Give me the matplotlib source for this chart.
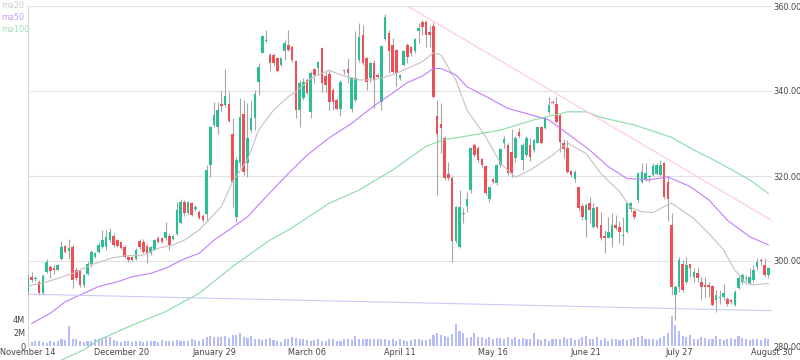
import numpy as np
import matplotlib
matplotlib.use("Agg")
import matplotlib.pyplot as plt

# daily candles
opens = [292.8, 296.3, 295.7, 295.1, 292.5, 297.5, 298.7, 298.4, 298.0, 300.4,
         303.5, 302.4, 303.4, 298.0, 297.7, 294.3, 296.9, 299.3, 300.9, 302.2,
         303.2, 303.2, 304.9, 305.9, 304.9, 304.5, 303.2, 301.0, 300.9, 300.4,
         304.8, 304.5, 303.5, 301.8, 302.7, 305.5, 305.3, 305.3, 305.9, 305.1,
         306.3, 308.9, 314.0, 311.4, 313.6, 312.3, 311.6, 310.5, 311.0, 322.6,
         332.0, 331.6, 336.9, 336.7, 336.9, 329.9, 310.4, 323.0, 334.6, 323.0,
         330.8, 333.6, 342.2, 349.0, 351.8, 348.5, 348.4, 347.7, 346.1, 349.3,
         350.8, 350.4, 347.1, 335.5, 338.3, 342.6, 335.1, 345.1, 345.3, 350.0,
         343.5, 343.9, 340.2, 338.0, 335.7, 344.6, 345.1, 335.7, 337.9, 347.3,
         353.2, 347.7, 343.0, 346.5, 343.8, 337.5, 352.2, 353.7, 350.8, 349.6,
         343.0, 346.1, 350.8, 350.4, 349.3, 354.2, 356.3, 356.3, 354.0, 355.3,
         334.1, 332.2, 328.9, 320.5, 319.5, 304.6, 303.4, 311.1, 313.0, 316.7,
         327.3, 326.7, 323.9, 322.4, 314.7, 319.2, 318.3, 322.6, 327.7, 327.3,
         325.7, 324.2, 330.4, 323.8, 324.9, 327.3, 326.1, 327.8, 331.6, 331.2,
         335.1, 337.5, 336.9, 334.4, 327.7, 326.5, 321.2, 319.2, 317.3, 312.9,
         309.7, 313.6, 307.9, 312.6, 308.5, 305.9, 305.3, 305.3, 308.5, 308.1,
         305.9, 306.9, 312.2, 311.8, 314.4, 318.7, 319.1, 319.7, 320.2, 320.5,
         320.2, 323.1, 318.7, 308.5, 292.0, 294.0, 299.4, 295.1, 299.3, 296.3,
         297.1, 295.1, 294.4, 294.4, 294.1, 290.8, 291.2, 291.6, 291.0, 290.8,
         289.6, 293.6, 295.1, 295.7, 294.9, 295.5, 298.7, 300.2, 299.0, 296.7]
highs = [297.0, 297.5, 296.4, 295.5, 297.0, 300.4, 299.0, 299.0, 299.4, 304.8,
         303.7, 305.1, 303.7, 298.6, 298.0, 297.0, 300.1, 302.6, 302.2, 304.5,
         307.3, 307.4, 307.7, 306.5, 305.2, 304.8, 303.7, 301.2, 301.1, 303.0,
         305.2, 305.1, 304.0, 303.6, 305.1, 305.8, 305.6, 309.2, 306.5, 306.2,
         314.0, 314.7, 314.3, 314.2, 314.0, 313.2, 312.0, 311.0, 322.6, 331.8,
         337.5, 337.5, 340.0, 345.2, 339.8, 333.6, 324.5, 338.3, 337.9, 337.2,
         337.7, 340.2, 346.5, 353.2, 354.4, 348.9, 349.0, 348.1, 348.0, 352.0,
         354.3, 350.8, 347.3, 342.6, 343.0, 343.0, 344.6, 345.3, 347.1, 350.3,
         344.9, 344.9, 340.6, 338.3, 342.6, 345.2, 347.8, 343.4, 354.2, 355.9,
         355.5, 348.1, 346.9, 347.3, 344.2, 350.8, 358.1, 354.4, 352.4, 349.8,
         344.0, 349.7, 351.2, 350.6, 352.4, 355.9, 356.7, 356.7, 355.5, 356.3,
         337.9, 337.1, 329.3, 323.4, 319.9, 312.9, 316.7, 312.4, 316.3, 326.9,
         327.7, 327.1, 324.2, 322.6, 317.5, 319.5, 322.8, 326.5, 329.3, 327.7,
         331.0, 329.3, 331.2, 327.7, 329.3, 328.9, 328.6, 331.6, 331.8, 334.0,
         338.7, 337.9, 338.7, 334.7, 328.6, 328.5, 321.4, 321.4, 317.5, 313.6,
         313.6, 315.0, 313.6, 312.8, 311.6, 307.3, 310.4, 311.2, 310.8, 309.3,
         310.4, 314.0, 314.0, 312.0, 321.0, 323.0, 323.0, 320.2, 323.0, 323.0,
         323.8, 323.4, 319.9, 311.2, 294.4, 301.0, 300.2, 300.9, 299.4, 298.3,
         298.7, 296.3, 296.3, 295.1, 294.4, 293.2, 293.2, 294.7, 291.6, 291.0,
         293.2, 296.7, 297.1, 296.7, 298.3, 299.0, 300.6, 300.6, 300.6, 298.7]
lows = [292.0, 295.0, 295.3, 292.0, 292.0, 297.1, 295.9, 297.0, 297.9, 300.2,
        301.8, 300.6, 293.6, 295.6, 293.8, 294.0, 296.7, 298.7, 300.7, 301.8,
        303.0, 302.6, 304.5, 303.2, 303.3, 302.8, 300.6, 299.8, 299.9, 300.2,
        302.8, 301.8, 299.6, 301.4, 302.6, 304.2, 304.3, 304.9, 302.7, 304.9,
        306.1, 308.7, 310.5, 311.0, 310.6, 311.8, 309.8, 309.2, 309.5, 319.8,
        331.6, 330.0, 335.0, 336.3, 332.8, 312.8, 309.2, 322.2, 320.2, 319.8,
        330.4, 330.8, 339.0, 348.9, 351.2, 344.8, 346.0, 344.5, 345.8, 347.3,
        349.5, 346.9, 333.6, 331.6, 337.9, 339.1, 333.6, 341.8, 343.8, 339.8,
        339.8, 335.5, 335.5, 335.5, 334.1, 344.0, 342.0, 335.1, 337.5, 346.9,
        346.1, 340.2, 342.2, 335.9, 343.0, 335.5, 352.0, 344.2, 344.2, 341.2,
        342.6, 345.9, 346.5, 348.2, 348.9, 351.2, 353.2, 350.4, 350.4, 338.3,
        315.5, 325.3, 319.1, 319.1, 299.8, 304.2, 303.0, 308.9, 311.6, 315.9,
        324.5, 323.4, 321.8, 315.5, 314.0, 318.3, 317.9, 322.2, 326.5, 320.2,
        319.7, 323.4, 328.9, 321.4, 324.5, 323.6, 325.7, 327.7, 327.5, 331.0,
        334.7, 336.9, 332.4, 325.7, 324.2, 320.6, 319.7, 318.7, 312.0, 309.7,
        305.7, 308.9, 307.7, 307.7, 304.9, 301.8, 305.3, 303.4, 307.3, 304.2,
        303.8, 306.5, 311.6, 310.0, 314.0, 318.3, 318.9, 318.7, 320.0, 320.2,
        319.9, 314.7, 309.3, 292.0, 286.1, 292.8, 292.8, 294.7, 296.3, 295.1,
        295.1, 290.8, 291.6, 291.6, 289.3, 288.1, 290.0, 290.8, 289.3, 290.0,
        289.3, 293.3, 294.7, 295.1, 294.7, 295.1, 297.9, 299.0, 296.3, 296.1]
closes = [295.9, 295.5, 296.1, 292.4, 296.5, 299.8, 297.6, 298.0, 299.0, 303.4,
          302.2, 303.0, 295.6, 296.0, 294.3, 296.7, 299.2, 302.0, 301.9, 303.8,
          304.9, 305.7, 306.9, 303.8, 303.5, 303.0, 300.9, 300.2, 300.2, 302.6,
          303.2, 302.2, 301.8, 303.2, 304.9, 304.5, 304.5, 306.9, 303.8, 305.9,
          312.0, 313.9, 311.4, 313.8, 310.9, 312.6, 310.2, 309.6, 321.3, 331.6,
          334.3, 335.5, 336.5, 338.9, 333.0, 318.7, 323.8, 333.8, 321.0, 328.9,
          333.6, 339.4, 345.7, 352.9, 351.9, 346.5, 346.5, 344.8, 347.7, 351.2,
          349.6, 347.3, 335.5, 341.8, 342.2, 339.5, 344.2, 343.8, 346.9, 341.8,
          341.4, 337.5, 337.5, 335.7, 342.2, 344.9, 344.3, 343.0, 343.0, 352.8,
          346.5, 342.2, 346.5, 342.6, 343.4, 350.6, 357.3, 349.3, 344.5, 344.2,
          343.8, 349.3, 348.1, 348.9, 352.2, 354.8, 355.1, 353.2, 353.2, 338.7,
          330.0, 331.2, 319.5, 319.5, 304.6, 312.8, 312.8, 311.4, 314.5, 326.5,
          325.0, 323.8, 322.6, 315.9, 317.3, 318.7, 322.6, 326.3, 328.6, 320.6,
          320.6, 328.9, 329.3, 327.3, 328.9, 324.5, 328.5, 331.5, 327.8, 333.8,
          336.7, 337.1, 332.8, 328.1, 326.3, 321.0, 320.2, 321.0, 312.4, 310.4,
          313.2, 312.0, 312.4, 307.9, 305.3, 305.3, 306.9, 308.5, 307.7, 306.9,
          306.1, 313.6, 313.7, 310.4, 320.8, 321.0, 320.8, 320.0, 322.4, 322.6,
          322.6, 315.1, 314.7, 294.0, 294.0, 300.2, 293.2, 299.0, 298.3, 297.3,
          295.9, 294.0, 294.0, 293.8, 289.6, 292.0, 291.6, 292.4, 290.0, 290.4,
          292.8, 296.1, 296.7, 296.0, 296.3, 297.9, 299.8, 300.0, 296.7, 298.3]
# volume in millions
volume = [0.7, 0.6, 0.8, 0.7, 0.6, 0.5, 0.7, 0.6, 0.8, 1.0,
          0.9, 3.0, 1.1, 1.0, 0.7, 0.6, 0.7, 0.8, 1.1, 1.0,
          1.2, 1.3, 1.4, 0.9, 0.7, 0.6, 0.8, 0.7, 0.6, 0.7,
          0.8, 0.6, 0.7, 0.8, 0.7, 0.6, 0.9, 0.7, 0.8, 0.7,
          0.9, 0.8, 0.7, 0.8, 1.0, 0.9, 0.8, 1.0, 1.4, 1.5,
          1.3, 1.4, 1.3, 1.5, 1.2, 1.6, 1.7, 2.0, 1.4, 1.2,
          1.5, 1.1, 1.0, 0.9, 1.1, 1.2, 0.9, 0.8, 0.6, 1.0,
          1.1, 1.3, 1.2, 1.0, 1.1, 0.9, 0.8, 0.9, 1.0, 0.8,
          0.8, 1.1, 1.0, 0.7, 0.8, 1.0, 1.1, 0.9, 1.5, 1.1,
          1.0, 1.1, 1.0, 1.0, 1.1, 1.0, 1.1, 0.9, 1.0, 0.8,
          1.1, 0.9, 0.8, 0.9, 1.0, 1.1, 0.9, 0.9, 1.0, 1.7,
          2.0, 1.6, 1.5, 1.3, 1.8, 3.3, 2.2, 2.0, 1.2, 1.3,
          1.9, 1.3, 1.4, 1.0, 1.3, 1.0, 1.2, 1.2, 1.0, 1.4,
          1.0, 1.3, 1.1, 1.2, 1.0, 1.1, 2.0, 1.1, 0.9, 1.0,
          0.8, 1.0, 1.1, 1.0, 1.3, 1.0, 1.2, 0.9, 1.0, 1.3,
          1.5, 1.0, 1.1, 1.3, 0.9, 1.2, 0.8, 1.0, 1.1, 0.9,
          1.0, 0.9, 1.0, 1.2, 1.3, 1.5, 1.1, 1.0, 1.1, 0.9,
          1.2, 1.5, 2.0, 4.5, 3.1, 2.2, 1.5, 1.3, 1.6, 1.0,
          1.1, 1.4, 1.2, 1.0, 1.1, 1.5, 1.0, 0.9, 1.0, 1.2,
          1.1, 1.5, 1.2, 1.0, 0.9, 1.1, 1.0, 0.9, 1.2, 1.0]

# moving averages, sampled along the chart (bar index, value)
ma20_idx = [0, 5, 8, 12, 17, 23, 26, 31, 35, 39, 42, 46, 52, 55, 59, 62, 66, 70, 72, 76,
            81, 84, 89, 93, 98, 102, 106, 109, 111, 115, 118, 123, 127, 131, 135, 141, 145, 150, 154, 159,
            162, 165, 168, 171, 173, 175, 179, 183, 187, 190, 193, 195, 199]
ma20_val = [294.1, 295.1, 295.9, 297.1, 299.1, 300.8, 301.2, 301.4, 303.0, 303.8,
            304.9, 307.3, 312.8, 318.7, 323.8, 330.8, 335.5, 338.7, 339.8, 343.0,
            344.9, 343.8, 342.6, 342.6, 343.8, 345.3, 346.9, 349.0, 348.5, 342.6,
            335.5, 329.3, 323.0, 319.7, 321.4, 324.9, 327.8, 325.3, 320.6, 316.3,
            312.6, 311.6, 311.4, 312.8, 313.6, 312.4, 310.0, 306.5, 302.6, 297.9,
            294.7, 294.4, 294.7]
ma50_idx = [1, 6, 10, 15, 19, 24, 28, 33, 37, 42, 46, 50, 54, 59, 64, 70, 75, 81, 87, 93,
            98, 102, 106, 109, 111, 115, 118, 124, 129, 134, 140, 145, 151, 156, 161, 167, 172, 178, 183, 188,
            194, 199]
ma50_val = [285.3, 287.7, 290.4, 292.4, 294.0, 295.1, 296.3, 297.1, 298.3, 300.5,
            301.8, 304.9, 307.3, 310.4, 315.1, 320.6, 324.9, 329.0, 332.4, 336.5,
            339.5, 342.0, 343.5, 345.3, 345.3, 343.8, 341.0, 338.3, 335.9, 334.7,
            333.2, 330.0, 326.1, 322.2, 319.4, 319.1, 319.8, 317.5, 314.4, 309.6,
            305.7, 303.8]
ma100_idx = [0, 9, 15, 19, 28, 37, 46, 55, 65, 70, 81, 89, 98, 107, 112, 118, 127, 136,
             145, 150, 154, 163, 173, 179, 186, 194, 199]
ma100_val = [272.5, 276.7, 279.1, 281.4, 284.9, 288.1, 292.4, 298.7, 304.9, 307.3,
             313.6, 316.7, 321.4, 327.0, 328.6, 329.4, 330.8, 333.2, 335.1, 335.1,
             333.8, 332.0, 329.1, 326.1, 323.0, 319.1, 315.9]

# trend lines (bar index, price)
trend_down = ([102, 200], [360.0, 309.5])
trend_low = ([0, 200], [292.2, 288.3])

tick_pos = [0, 25, 50, 75, 100, 125, 150, 175, 200]
tick_labels = ["November 14", "December 20", "January 29", "March 06", "April 11",
               "May 16", "June 21", "July 27", "August 30"]

UP = "#2bbd96"
DOWN = "#ef4f57"
WICK = "#a6a6a6"
FS = 5.9

fig = plt.figure(figsize=(8, 3.6), dpi=100)
ax = fig.add_axes([28 / 800, 14 / 360, 744 / 800, 340 / 360])
axv = ax.twinx()
ax.set_zorder(2)
ax.patch.set_visible(False)
axv.set_zorder(1)

o = np.array(opens)
h = np.array(highs)
l = np.array(lows)
c = np.array(closes)
x = np.arange(len(o))
up = c >= o
cols = np.where(up, UP, DOWN)

# volume
axv.bar(x, volume, width=0.55, color="#b6bcf6", linewidth=0)
axv.set_ylim(0, 51)
axv.set_yticks([0, 2, 4])
axv.set_yticklabels(["0", "2M", "4M"])
axv.yaxis.tick_left()
axv.tick_params(axis="y", length=0, pad=2, labelsize=FS, labelcolor="#444444")

# candles
ax.vlines(x, l, h, color=WICK, linewidth=0.8, zorder=3)
body_bot = np.minimum(o, c)
body_h = np.maximum(np.abs(c - o), 0.25)
ax.bar(x, body_h, bottom=body_bot, width=0.68, color=cols, linewidth=0, zorder=4)

# moving averages
ax.plot(ma20_idx, ma20_val, color="#c9bfbf", linewidth=0.8, zorder=5)
ax.plot(ma50_idx, ma50_val, color="#c07cff", linewidth=0.8, zorder=5)
ax.plot(ma100_idx, ma100_val, color="#86dca6", linewidth=0.8, zorder=5, clip_on=False)

# trend lines
ax.plot(trend_down[0], trend_down[1], color="#ffc8d6", linewidth=0.8, zorder=5)
ax.plot(trend_low[0], trend_low[1], color="#c8ccf6", linewidth=0.8, zorder=5)

ax.set_xlim(0, 200)
ax.set_ylim(280, 360)
ax.set_yticks([280, 300, 320, 340, 360])
ax.set_yticklabels([f"{v:.2f}" for v in [280, 300, 320, 340, 360]])
ax.yaxis.tick_right()
ax.grid(axis="y", color="#e2e2e2", linewidth=0.8)
ax.set_axisbelow(True)
ax.tick_params(axis="y", length=0, pad=1, labelsize=FS, labelcolor="#444444")

ax.set_xticks(tick_pos)
ax.set_xticklabels(tick_labels)
ax.tick_params(axis="x", length=0, pad=1.5, labelsize=FS, labelcolor="#444444")

for a in (ax, axv):
    for s in ("top", "right", "bottom"):
        a.spines[s].set_visible(False)
ax.spines["left"].set_visible(False)
axv.spines["left"].set_color("#d8d8d8")
axv.spines["left"].set_linewidth(0.8)

fig.text(1 / 800, 1 - 5 / 360, "ma20", color="#d2c9c9", fontsize=FS, va="center")
fig.text(1 / 800, 1 - 17 / 360, "ma50", color="#c89cff", fontsize=FS, va="center")
fig.text(1 / 800, 1 - 29 / 360, "ma100", color="#9ee0b8", fontsize=FS, va="center")

fig.savefig("out.png", dpi=100)
